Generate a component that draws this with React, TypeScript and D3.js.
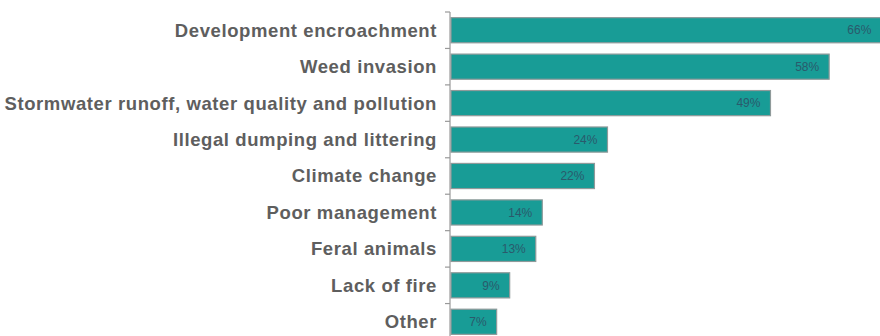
import React from "react";
import * as d3 from "d3";

const categories = [
  "Development encroachment",
  "Weed invasion",
  "Stormwater runoff, water quality and pollution",
  "Illegal dumping and littering",
  "Climate change",
  "Poor management",
  "Feral animals",
  "Lack of fire",
  "Other",
];
const values = [66, 58, 49, 24, 22, 14, 13, 9, 7];
const valueLabels = ["66%", "58%", "49%", "24%", "22%", "14%", "13%", "9%", "7%"];

export default function App() {
  const W = 880;
  const H = 336;
  const x0 = 451;
  const x = d3.scaleLinear().domain([0, 100]).range([x0, x0 + 652]);
  const y = d3
    .scaleBand<string>()
    .domain(categories)
    .range([12, 340])
    .paddingInner(0.31)
    .paddingOuter(0.155);
  const step = y.step();
  const tickYs = categories.map((c) => (y(c) as number) - (step * y.paddingInner()) / 2);

  return (
    <svg
      width={W}
      height={H}
      style={{ position: "absolute", left: 0, top: 0 }}
      fontFamily="Liberation Sans, Arial, sans-serif"
    >
      <rect width={W} height={H} fill="#fff" />
      {categories.map((c, i) => {
        const yy = y(c) as number;
        const bw = y.bandwidth();
        return (
          <g key={c}>
            <rect
              x={x(0)}
              y={yy}
              width={x(values[i]) - x(0)}
              height={bw}
              fill="#189c96"
              stroke="#8f9a9a"
              strokeWidth={1.2}
            />
            <text
              x={x(values[i]) - 10}
              y={yy + bw / 2}
              dy="0.35em"
              textAnchor="end"
              fontSize={12}
              fill="#2a5a6c"
            >
              {valueLabels[i]}
            </text>
            <text
              x={437}
              y={yy + bw / 2}
              dy="0.35em"
              textAnchor="end"
              fontSize={18.5}
              fontWeight="bold"
              letterSpacing={0.6}
              fill="#5e5e5e"
            >
              {c}
            </text>
          </g>
        );
      })}
      <line x1={450} x2={450} y1={12} y2={H} stroke="#999" strokeWidth={1.2} />
      {tickYs.map((t, i) => (
        <line key={i} x1={445} x2={450} y1={t} y2={t} stroke="#999" strokeWidth={1.2} />
      ))}
    </svg>
  );
}
